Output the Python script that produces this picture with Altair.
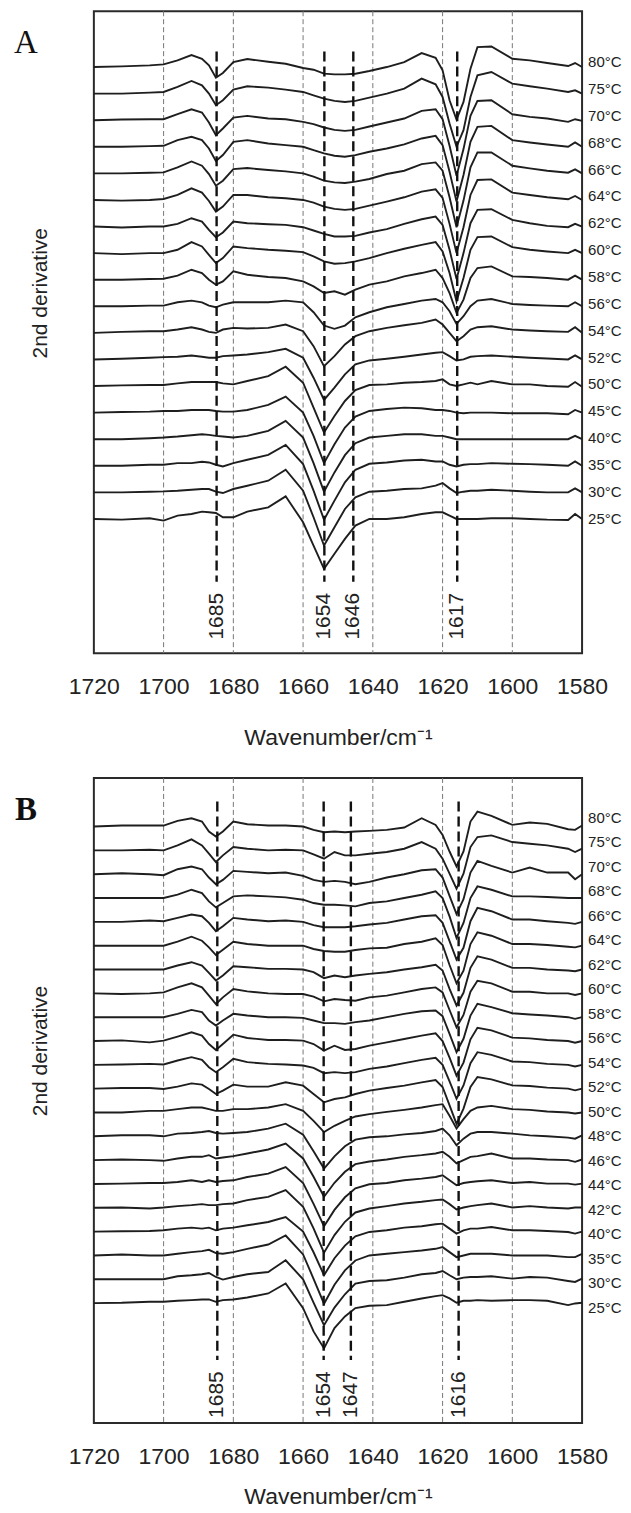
import altair as alt
import pandas as pd

FONT = "Liberation Sans"
SERIF = "Liberation Serif"
INK = "#1e1e1e"

# wavenumber sampling points (cm-1) shared by all traces
WN = [1720, 1712, 1704, 1700, 1696, 1692, 1689, 1687, 1685, 1683, 1680, 1676, 1670, 1665,
      1660, 1657, 1654, 1651, 1648, 1645, 1641, 1636, 1631, 1626, 1622, 1620, 1618, 1616,
      1614, 1612, 1610, 1606, 1600, 1595, 1590, 1584, 1582, 1580]
TICKS = [1720, 1700, 1680, 1660, 1640, 1620, 1600, 1580]
GRID = [1700, 1680, 1660, 1640, 1620, 1600]

# ---------------- Panel A (up = positive) ----------------
TEMPS_A = ["80°C", "75°C", "70°C", "68°C", "66°C", "64°C", "62°C", "60°C", "58°C",
           "56°C", "54°C", "52°C", "50°C", "45°C", "40°C", "35°C", "30°C", "25°C"]
A80 = [0, 2, 5, 8, 20, 36, 25, 5, -32, -18, 15, 24, 16, 10, -3, -8, -20, -22, -22, -20, -12, 0, 15, 42, 28, -10, -100, -158, -105, -5, 60, 62, 25, 20, 12, 3, 12, 0]
A75 = [0, 0, 3, 5, 20, 38, 25, 0, -35, -20, 12, 22, 18, 12, 5, -5, -15, -22, -25, -22, -12, 0, 15, 45, 28, -10, -90, -160, -110, -10, 55, 65, 30, 22, 15, 5, 10, 0]
A70 = [0, 2, 3, 3, 18, 33, 23, -7, -45, -25, 8, 13, 5, 3, -5, -12, -22, -29, -32, -29, -19, -7, 5, 28, 33, 3, -77, -167, -87, 13, 58, 60, 18, 10, 5, -5, 3, -2]
A68 = [0, 0, 2, 3, 20, 30, 20, -5, -43, -25, 15, 20, 10, 5, 0, -10, -20, -27, -30, -25, -15, -5, 7, 25, 33, 5, -75, -165, -85, 15, 60, 63, 20, 13, 7, 0, 13, 0]
A66 = [0, 0, 2, 3, 18, 36, 23, -2, -37, -22, 13, 16, 10, 6, 0, -10, -22, -27, -29, -25, -17, -2, 8, 28, 33, 8, -72, -162, -82, 18, 63, 63, 23, 15, 8, 2, 12, 0]
A64 = [0, -2, 0, 3, 15, 35, 22, -3, -35, -20, 15, 15, 8, 5, 0, -8, -20, -27, -30, -27, -17, -5, 8, 25, 32, 6, -72, -160, -82, 15, 60, 62, 22, 15, 8, 2, 12, 0]
A62 = [0, -3, 0, 0, 8, 25, 15, -10, -32, -18, 15, 10, 7, 5, -2, -12, -22, -30, -30, -28, -18, -8, 8, 22, 30, 5, -70, -158, -80, 10, 50, 52, 20, 10, 2, -2, 8, 0]
A60 = [0, -3, 0, 0, 10, 33, 20, -5, -30, -15, 20, 15, 10, 7, 3, -10, -25, -32, -30, -25, -15, 0, 13, 25, 33, 5, -60, -145, -75, 10, 48, 50, 18, 10, 5, 0, 10, 0]
A58 = [0, 0, 2, 3, 12, 30, 20, 0, -15, -5, 25, 15, 8, 5, -5, -20, -40, -35, -45, -30, -15, -5, 10, 20, 30, 5, -40, -100, -60, 5, 35, 40, 10, 8, 5, 0, 12, 0]
A56 = [0, 0, 2, 2, 12, 17, 12, 2, -3, 5, 12, 12, 12, 17, 12, -18, -58, -68, -58, -33, -18, -3, 7, 17, 22, 12, -15, -53, -30, 0, 17, 22, 7, 4, 2, 0, 12, 0]
A54 = [0, 3, 5, 5, 10, 17, 10, 3, 0, 10, 15, 13, 15, 25, 5, -40, -100, -70, -35, -10, 5, 15, 23, 30, 40, 25, 0, -25, -10, 10, 17, 20, 10, 7, 5, 3, 17, 0]
A52 = [0, 2, 5, 7, 8, 12, 8, 5, 5, 10, 12, 15, 22, 32, 5, -55, -122, -85, -45, -15, -3, 2, 8, 15, 20, 22, 10, -3, 0, 8, 10, 12, 8, 5, 3, 0, 12, 0]
A50 = [0, 2, 3, 3, 8, 12, 12, 12, 12, 8, 5, 15, 30, 58, 10, -65, -140, -90, -45, -12, 3, 5, 10, 12, 15, 20, 5, 0, 5, 10, 5, 15, 5, 5, 0, -2, 12, -2]
A45 = [0, 2, 3, 5, 5, 8, 8, 8, 5, 3, 3, 8, 23, 48, 0, -70, -152, -95, -45, -12, 5, 11, 15, 13, 8, 8, 5, 0, -2, 0, 0, 0, -2, -2, -2, -5, 8, 0]
A40 = [0, 0, 3, 5, 8, 12, 15, 13, 10, 8, 5, 10, 25, 55, 5, -72, -158, -100, -48, -12, 5, 10, 15, 15, 10, 10, 5, 0, 0, 0, 0, 0, 0, 0, 0, 0, 10, 0]
A35 = [0, 0, 3, 3, 8, 8, 12, 10, 3, -2, 8, 18, 33, 63, 5, -75, -162, -105, -50, -12, 6, 10, 16, 18, 13, 13, 3, -2, 3, 5, 5, 8, 6, 5, 3, 0, 13, 0]
A30 = [0, 0, 2, 3, 5, 8, 10, 10, 2, -2, 10, 20, 35, 68, 5, -75, -160, -105, -50, -15, 2, 5, 10, 12, 20, 28, 12, -2, 2, 5, 5, 8, 5, 2, 0, 0, 12, 0]
A25 = [0, -2, 2, -5, 10, 15, 22, 20, 18, 5, 5, 22, 35, 68, -10, -80, -150, -105, -60, -20, 0, 0, 5, 15, 20, 20, 10, 0, 0, 0, 0, 2, 2, 0, -2, -3, 15, 0]
CURVES_A = [A80, A75, A70, A68, A66, A64, A62, A60, A58, A56, A54, A52, A50, A45, A40, A35, A30, A25]
MARK_POS_A = [1684.8, 1653.9, 1645.6, 1615.8]
MARK_LAB_A = ["1685", "1654", "1646", "1617"]

# ---------------- Panel B ----------------
TEMPS_B = ["80°C", "75°C", "70°C", "68°C", "66°C", "64°C", "62°C", "60°C", "58°C", "56°C",
           "54°C", "52°C", "50°C", "48°C", "46°C", "44°C", "42°C", "40°C", "35°C", "30°C", "25°C"]
B80 = [0, 3, 3, 3, 17, 25, 15, -15, -30, -15, 15, 7, 3, 3, 0, -10, -17, -15, -17, -15, -13, -10, -3, 25, 5, -25, -75, -120, -75, 15, 45, 32, 5, 12, 8, -8, -10, 3]
B75 = [0, 0, 2, 0, 15, 33, 15, -10, -35, -15, 10, 5, 0, 2, 0, -12, -25, -5, -15, -15, -10, -5, 5, 25, 5, -25, -70, -115, -70, 10, 40, 45, 25, 20, 15, 5, -5, 5]
B70 = [0, 3, 0, -3, 15, 23, 15, -10, -30, -17, 10, 7, 3, 5, -5, -17, -23, -20, -23, -30, -23, -10, 0, 12, 15, -10, -65, -120, -75, 5, 40, 25, 5, 20, 5, 5, -15, 0]
B68 = [0, 0, 0, 0, 10, 25, 15, -10, -28, -15, 5, 8, 5, 2, -5, -15, -20, -20, -22, -25, -15, -10, 0, 10, 20, 0, -55, -120, -75, 0, 35, 25, 5, 5, 3, 0, 0, 0]
B66 = [0, 0, 4, 2, 12, 22, 17, -3, -28, -13, 12, 7, 2, 4, 0, -10, -16, -16, -16, -13, -8, -3, 7, 17, 20, -3, -58, -113, -78, 2, 42, 32, 7, 7, 2, -3, -6, 0]
B64 = [0, 0, 0, 0, 12, 27, 15, -5, -28, -12, 12, 5, 0, 0, 0, -10, -16, -18, -18, -13, -8, -6, 5, 12, 22, 2, -58, -113, -75, 5, 40, 30, 5, 5, 2, -3, -5, 0]
B62 = [0, 0, 0, 0, 12, 22, 12, -10, -33, -18, 10, 7, 2, 2, 0, -8, -26, -18, -23, -18, -13, -8, 0, 7, 14, -3, -58, -108, -70, 5, 40, 30, 5, 5, 0, -3, -5, 0]
B60 = [0, -2, 0, 3, 18, 30, 18, -7, -32, -12, 13, 6, 0, -2, -2, -10, -24, -17, -20, -22, -12, -7, 3, 13, 18, 3, -50, -102, -65, 5, 38, 30, 5, 5, 0, 0, -5, 0]
B58 = [0, 0, 0, 0, 10, 22, 15, -10, -25, -10, 10, 5, 0, 0, -2, -10, -18, -18, -20, -15, -10, 0, 10, 18, 20, 3, -50, -105, -65, 5, 40, 30, 12, 8, 5, 0, -5, 0]
B56 = [0, 2, -4, 1, 13, 26, 16, -9, -27, -9, 19, 9, 3, 3, 1, -9, -29, -14, -27, -24, -14, -4, 6, 16, 23, 0, -50, -104, -65, 5, 40, 32, 10, 8, 3, 0, -5, 0]
B54 = [0, 1, 3, 1, 13, 23, 15, -7, -22, -7, 18, 8, 3, 1, -2, -9, -25, -22, -25, -22, -12, -5, 5, 15, 21, 0, -50, -102, -62, 5, 38, 30, 10, 8, 3, 0, -5, 0]
B52 = [0, 2, 2, -1, 6, 16, 12, -1, -16, -6, 12, 6, 6, 19, 9, -16, -41, -31, -26, -16, -6, 2, 9, 19, 26, 5, -50, -106, -60, 5, 35, 28, 10, 8, 3, 0, -5, 0]
B50 = [0, 0, 5, 5, 10, 15, 15, 10, 5, 5, 10, 10, 15, 25, 5, -25, -59, -40, -25, -12, -5, 2, 8, 15, 22, 25, -10, -48, -20, 5, 15, 20, 10, 8, 3, 0, -3, 0]
B48 = [0, 3, 3, 0, 8, 10, 13, 16, 10, 8, 10, 13, 23, 38, 5, -45, -97, -60, -30, -10, -3, 0, 6, 10, 16, 23, 3, -27, -7, 8, 13, 13, 8, 3, 0, -4, -7, 3]
B46 = [0, 2, 0, -2, 5, 10, 10, 15, 5, 8, 12, 20, 32, 50, 5, -50, -110, -68, -35, -12, -4, 2, 10, 15, 20, 25, 10, -10, 0, 10, 12, 20, 5, 5, 2, 0, -5, 2]
B44 = [0, 1, 3, 3, 6, 11, 6, 11, 6, 9, 11, 21, 31, 51, 3, -60, -127, -78, -40, -13, -1, 3, 11, 16, 21, 26, 11, -4, 3, 6, 8, 11, 3, 6, 1, 1, -2, 1]
B42 = [0, 1, -2, 1, 5, 8, 11, 8, 8, 11, 13, 23, 33, 53, 3, -62, -135, -82, -42, -14, -2, 5, 13, 18, 23, 25, 11, -5, 1, 5, 8, 13, 1, 5, 1, -2, 1, 1]
B40 = [0, 1, 2, 4, 9, 12, 9, 12, 4, 9, 12, 19, 29, 44, 0, -62, -131, -80, -42, -14, -1, 4, 12, 16, 22, 24, 9, -6, 4, 9, 9, 14, 4, 4, 2, -1, -6, 0]
B35 = [0, 3, 0, 0, 5, 10, 13, 17, 7, 5, 10, 20, 33, 60, 3, -70, -145, -88, -45, -15, 0, 5, 10, 15, 20, 25, 10, -5, 0, 5, 5, 5, 0, 0, 0, -5, -5, 5]
B30 = [0, 0, 0, 0, 9, 12, 15, 19, 7, -1, 7, 15, 22, 57, 0, -70, -138, -85, -45, -13, -5, -3, 5, 15, 19, 25, 12, 0, 5, 7, 7, 9, 2, 7, 5, -5, -8, 2]
B25 = [0, 1, 4, 4, 7, 9, 11, 11, 4, 9, 11, 17, 29, 59, -15, -85, -136, -75, -40, -15, -8, -6, 4, 14, 21, 24, 14, 1, 7, 7, 9, 7, 9, 9, 7, -6, -1, 1]
CURVES_B = [B80, B75, B70, B68, B66, B64, B62, B60, B58, B56, B54, B52, B50, B48, B46, B44,
            B42, B40, B35, B30, B25]
MARK_POS_B = [1684.6, 1654.1, 1646.3, 1615.4]
MARK_LAB_B = ["1685", "1654", "1647", "1616"]


def panel(temps, curves, step, lab_base, lab_step, ydom, height, mpos, mlab,
          mtop, mbot, mlaby, letter, letter_weight, ytitle_y, xlab_pad, xtitle_pad):
    n = len(temps)
    rows = []
    labs = []
    for k, (t, vals) in enumerate(zip(temps, curves)):
        level = n - 1 - k
        for w, v in zip(WN, vals):
            rows.append({"temp": t, "wn": w, "val": level * step + v})
        labs.append({"temp": t, "wn": 1580, "val": lab_base + level * lab_step})
    df = pd.DataFrame(rows)
    lab_df = pd.DataFrame(labs)
    grid_df = pd.DataFrame({"wn": GRID})
    mk_df = pd.DataFrame({"wn": mpos, "lab": mlab, "val": [mtop] * len(mpos),
                          "bot": [mbot] * len(mpos), "ly": [mlaby] * len(mpos)})

    xs = alt.Scale(domain=[1580, 1720], reverse=True, nice=False, zero=False)
    ys = alt.Scale(domain=ydom, nice=False, zero=False)

    xaxis = alt.Axis(values=TICKS, format="d", ticks=False, tickSize=0, domain=False,
                     grid=False, labelFontSize=23, labelFont=FONT, labelColor="#222",
                     labelPadding=xlab_pad, labelFlush=False, labelOverlap=False,
                     title="Wavenumber/cm⁻¹", titleFont=FONT, titleFontSize=23,
                     titleFontWeight="normal", titleColor="#222", titlePadding=xtitle_pad)
    yaxis = alt.Axis(title="2nd derivative", labels=False, ticks=False, domain=False,
                     grid=False, titleFont=FONT, titleFontSize=21, titleFontWeight="normal",
                     titleColor="#222", titleAngle=270, titleX=-53, titleY=ytitle_y,
                     titleAlign="center", titleBaseline="middle")
    X = alt.X("wn:Q", scale=xs, axis=xaxis)
    Y = alt.Y("val:Q", scale=ys, axis=yaxis)

    grid = alt.Chart(grid_df).mark_rule(color="#777", strokeWidth=1, strokeDash=[5, 3]).encode(x=X)
    lines = alt.Chart(df).mark_line(color=INK, strokeWidth=1.9).encode(
        x=X, y=Y, detail="temp:N")
    marks = alt.Chart(mk_df).mark_rule(color="#111", strokeWidth=2.4, strokeDash=[10, 5]).encode(
        x=X, y=Y, y2="bot:Q")
    mtext = alt.Chart(mk_df).mark_text(angle=270, align="left", baseline="middle",
                                       fontSize=21, font=FONT, color="#222").encode(
        x=X, y=alt.Y("ly:Q", scale=ys, axis=yaxis), text="lab:N")
    tlab = alt.Chart(lab_df).mark_text(align="left", baseline="middle", dx=6, fontSize=15,
                                       font=FONT, color="#222").encode(
        x=X, y=Y, text="temp:N")
    let = alt.Chart(pd.DataFrame({"t": [letter]})).mark_text(
        align="center", baseline="middle", fontSize=33, font=SERIF,
        fontWeight=letter_weight, color="#111").encode(
        x=alt.value(-68), y=alt.value(32), text="t:N")
    return alt.layer(grid, lines, marks, mtext, tlab, let).properties(width=489, height=height)


pa = panel(TEMPS_A, CURVES_A, 80, 1, 80.8, [-404, 1528], 643, MARK_POS_A, MARK_LAB_A,
           1407, -189, -363, "A", "normal", 282, 22, 28)
pb = panel(TEMPS_B, CURVES_B, 71.6, -14, 73.65, [-360, 1578], 646, MARK_POS_B, MARK_LAB_B,
           1507, -171, -345, "B", "bold", 273, 23, 17)

chart = alt.vconcat(pa, pb, spacing=26).properties(
    padding={"left": 5, "top": 0, "right": 0, "bottom": 0}, background="white"
).configure_view(stroke="#2a2a2a", strokeWidth=2)

chart.save("out.html", embed_options={"renderer": "svg", "actions": False})
